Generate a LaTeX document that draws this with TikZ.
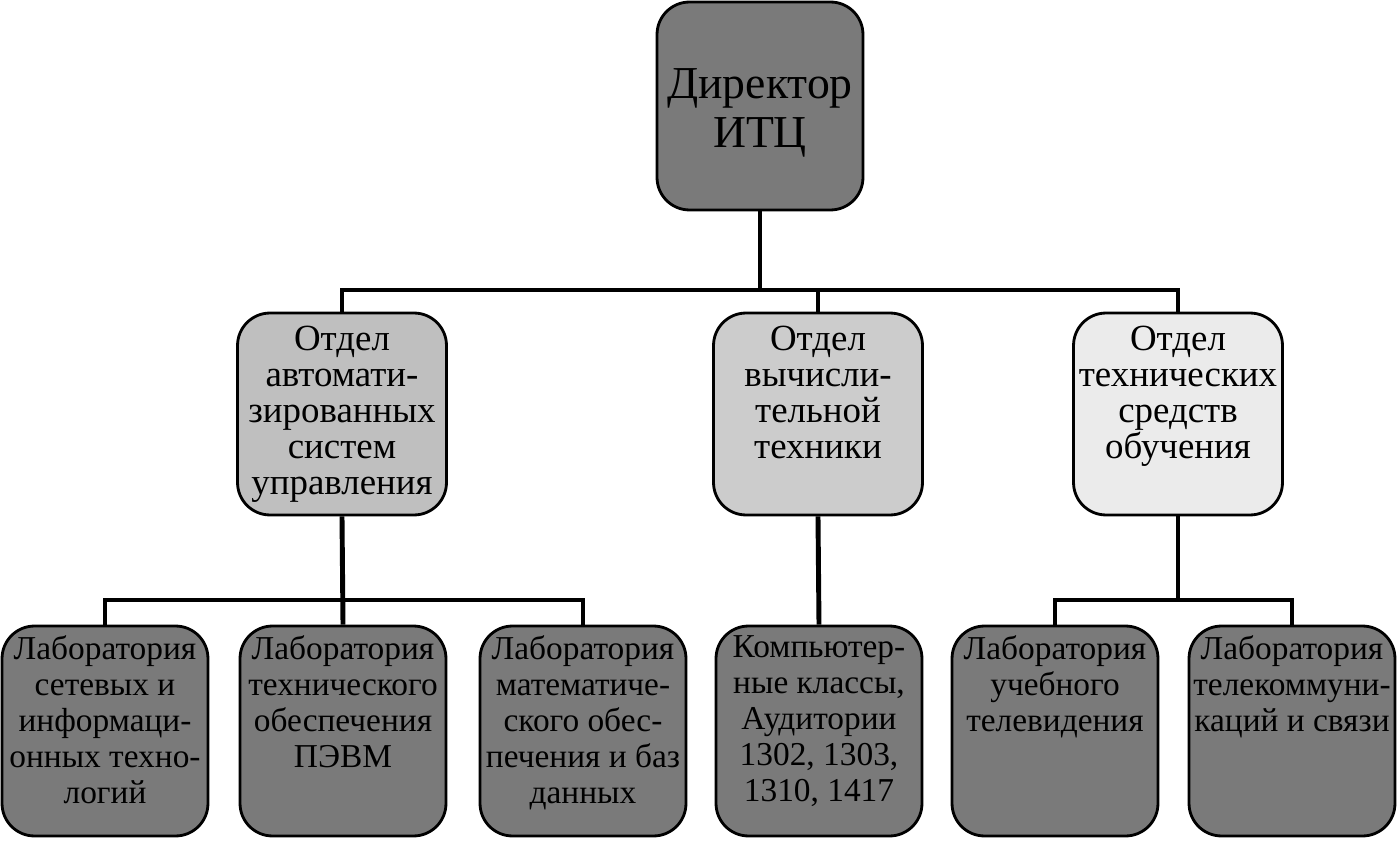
\documentclass[tikz,border=0pt]{standalone}
\usepackage{fontspec}
\setmainfont{Liberation Serif}
\usetikzlibrary{positioning}

\begin{document}
\begin{tikzpicture}[x=0.02cm, y=-0.02cm,
  box/.style={draw, line width=1.6pt, rounded corners=0.65cm, minimum width=4.12cm, minimum height=4.16cm, inner sep=0pt},
  chief/.style={box, fill=black!52},
  dept/.style={box, minimum width=4.18cm, minimum height=4.04cm},
  lab/.style={box, fill=black!52, minimum height=4.2cm},
  ctext/.style={anchor=center, yshift=-0.14cm, inner sep=0pt, align=center, font=\fontsize{26}{27.5}\selectfont},
  dtext/.style={anchor=north, yshift=-0.29cm, inner sep=0pt, align=center, font=\fontsize{21}{20.5}\selectfont},
  ltext/.style={anchor=north, yshift=-0.22cm, inner sep=0pt, align=center, font=\fontsize{19}{20.5}\selectfont},
  conn/.style={line width=2.8pt}]
  \useasboundingbox (0,0) rectangle (1397,841);

  % director
  \node[chief, label={[ctext]center:{Директор\\ИТЦ}}] (dir) at (760,106) {};

  % departments
  \node[dept, fill=black!25, label={[dtext]north:{Отдел\\автомати-\\зированных\\систем\\управления}}] (asu) at (342,414) {};
  \node[dept, fill=black!20, label={[dtext]north:{Отдел\\вычисли-\\тельной\\техники}}] (vt) at (818,414) {};
  \node[dept, fill=black!8, label={[dtext]north:{Отдел\\технических\\средств\\обучения}}] (tso) at (1178,414) {};

  % laboratories
  \node[lab, label={[ltext]north:{Лаборатория\\сетевых и\\информаци-\\онных техно-\\логий}}] (lab1) at (105,731) {};
  \node[lab, label={[ltext]north:{Лаборатория\\технического\\обеспечения\\ПЭВМ}}] (lab2) at (343,731) {};
  \node[lab, label={[ltext]north:{Лаборатория\\математиче-\\ского обес-\\печения и баз\\данных}}] (lab3) at (583,731) {};
  \node[lab, label={[ltext]north:{Компьютер-\\ные классы,\\Аудитории\\1302, 1303,\\1310, 1417}}] (lab4) at (819,731) {};
  \node[lab, label={[ltext]north:{Лаборатория\\учебного\\телевидения}}] (lab5) at (1055,731) {};
  \node[lab, label={[ltext]north:{Лаборатория\\телекоммуни-\\каций и связи}}] (lab6) at (1292,731) {};

  % connectors
  \coordinate (top bus) at (760,290);
  \draw[conn] (dir.south) -- (top bus);
  \draw[conn] (asu.north) |- (top bus) -| (tso.north);
  \draw[conn] (vt.north) -- (vt.north |- top bus);

  \coordinate (asu bus) at (342,600);
  \draw[conn] (asu.south) -- (lab2.north);
  \draw[conn] (lab1.north) |- (asu bus) -| (lab3.north);
  \draw[conn] (vt.south) -- (lab4.north);

  \coordinate (tso bus) at (1178,600);
  \draw[conn] (tso.south) -- (tso bus);
  \draw[conn] (lab5.north) |- (tso bus) -| (lab6.north);
\end{tikzpicture}
\end{document}
